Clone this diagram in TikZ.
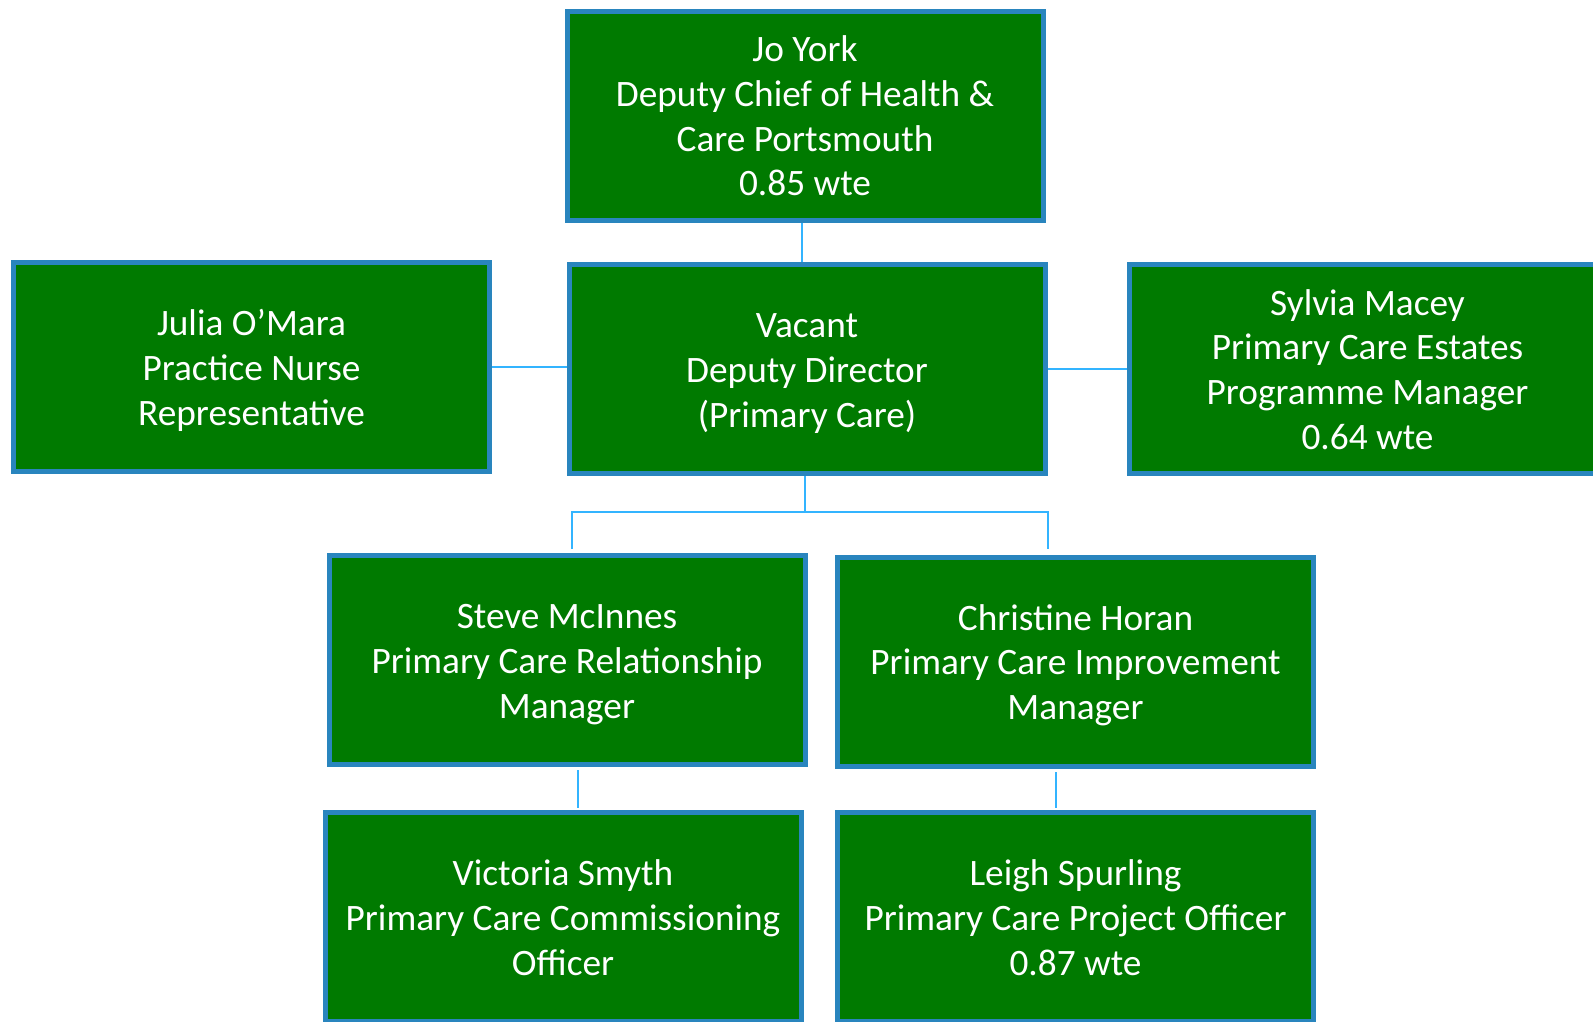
\documentclass[tikz,border=0pt]{standalone}
\usepackage{fontspec}
\setmainfont{Carlito}
\definecolor{boxgreen}{RGB}{0,122,0}
\definecolor{boxblue}{RGB}{41,133,190}
\definecolor{linkblue}{RGB}{51,180,255}
\newcommand\myTopStrut{\rule{0pt}{38pt}}
\newcommand\myBotStrut{\rule[-11.4pt]{0pt}{11.4pt}}
\begin{document}
\begin{tikzpicture}[x=1pt,y=-1pt,
  box/.style={draw=boxblue, line width=5pt, fill=boxgreen, text=white,
    minimum width=476pt, minimum height=209pt, align=center,
    font=\fontsize{37.3}{44.7}\selectfont, inner sep=0pt},
  link/.style={draw=linkblue, line width=2pt}]
\useasboundingbox (0,0) rectangle (1593,1021);
\clip (0,0) rectangle (1593,1021);
\node[box] (york) at (805,115.5) {\myTopStrut Jo York\\Deputy Chief of Health \&\\Care Portsmouth\\0.85 wte\myBotStrut};
\node[box] (julia) at (251.5,367) {\myTopStrut Julia O’Mara\\Practice Nurse\\Representative\myBotStrut};
\node[box] (vacant) at (807,369) {\myTopStrut Vacant\\Deputy Director\\(Primary Care)\myBotStrut};
\node[box] (sylvia) at (1367.5,369) {\myTopStrut Sylvia Macey\\Primary Care Estates\\Programme Manager\\0.64 wte\myBotStrut};
\node[box] (steve) at (567,660) {\myTopStrut Steve McInnes\\Primary Care Relationship\\Manager\myBotStrut};
\node[box] (christine) at (1075.5,661.5) {\myTopStrut Christine Horan\\Primary Care Improvement\\Manager\myBotStrut};
\node[box] (victoria) at (563,917) {\myTopStrut Victoria Smyth\\Primary Care Commissioning\\Officer\myBotStrut};
\node[box] (leigh) at (1075.5,917) {\myTopStrut Leigh Spurling\\Primary Care Project Officer\\0.87 wte\myBotStrut};
\coordinate (busL) at (572,512);
\coordinate (busR) at (1048,512);
\coordinate (busLend) at (572,549);
\coordinate (busRend) at (1048,549);
\coordinate (sv1) at (578,770);
\coordinate (sv2) at (578,808);
\coordinate (cl1) at (1056,772);
\coordinate (cl2) at (1056,808);
\draw[link] ([xshift=-3pt]york.south) -- ([xshift=-3pt]york.south |- vacant.north);
\draw[link] (julia.east) -- (julia.east -| vacant.west);
\draw[link] (vacant.east) -- (vacant.east -| sylvia.west);
\draw[link] ([xshift=-2pt]vacant.south) -- ([xshift=-2pt]vacant.south |- busL);
\draw[link] (busLend) -- (busL) -- (busR) -- (busRend);
\draw[link] (sv1) -- (sv2);
\draw[link] (cl1) -- (cl2);
\end{tikzpicture}
\end{document}
